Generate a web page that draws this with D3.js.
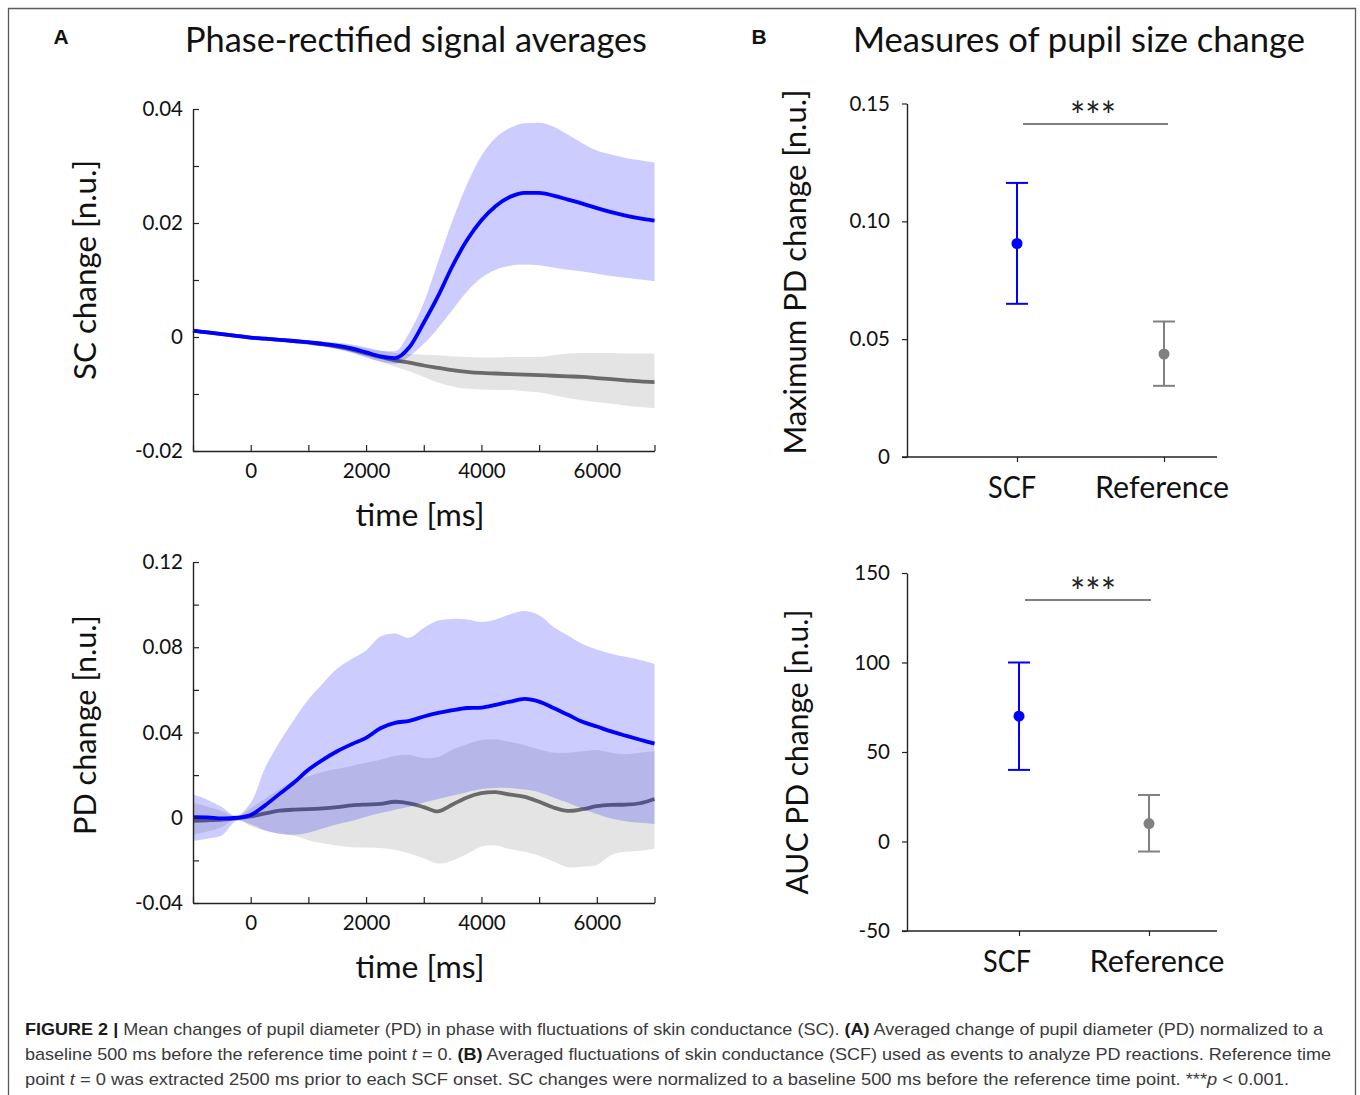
<!DOCTYPE html>
<html><head><meta charset="utf-8">
<script src="https://cdn.jsdelivr.net/npm/d3@7"></script>
<style>body{margin:0;background:#fff}svg{display:block}</style>
</head><body>
<svg id="c" width="1360" height="1095"></svg>
<script>
// ---------- DATA ----------
const timeMs = [-1000,-750,-500,-250,0,250,500,750,1000,1250,1500,1750,2000,2250,2500,2750,3000,3250,3500,3750,4000,4250,4500,4750,5000,5250,5500,5750,6000,6250,6500,6750,7000];

// SC change (top left)
const scMeanSCF  = [0.0011,0.0008,0.0005,0.0002,-0.0001,-0.0003,-0.0005,-0.0007,-0.0009,-0.0012,-0.0015,-0.0020,-0.0027,-0.0034,-0.0037,-0.0018,0.0025,0.0072,0.0125,0.0170,0.0205,0.0230,0.0246,0.0253,0.0253,0.0248,0.0241,0.0234,0.0226,0.0219,0.0213,0.0208,0.0204];
const scUpperSCF = [0.0013,0.0010,0.0007,0.0004,0.0001,-0.0001,-0.0003,-0.0004,-0.0006,-0.0008,-0.0010,-0.0013,-0.0018,-0.0024,-0.0025,0.0008,0.0060,0.0133,0.0205,0.0268,0.0318,0.0350,0.0367,0.0375,0.0376,0.0369,0.0355,0.0340,0.0327,0.0320,0.0314,0.0310,0.0306];
const scLowerSCF = [0.0009,0.0006,0.0003,0.0000,-0.0003,-0.0005,-0.0007,-0.0010,-0.0012,-0.0016,-0.0021,-0.0027,-0.0035,-0.0043,-0.0047,-0.0034,-0.0012,0.0016,0.0048,0.0080,0.0104,0.0118,0.0125,0.0127,0.0126,0.0122,0.0118,0.0115,0.0111,0.0107,0.0104,0.0101,0.0098];
const scMeanRef  = [0.0011,0.0008,0.0005,0.0002,-0.0001,-0.0003,-0.0005,-0.0007,-0.0010,-0.0013,-0.0017,-0.0022,-0.0029,-0.0035,-0.0041,-0.0045,-0.0050,-0.0054,-0.0058,-0.0061,-0.0063,-0.0064,-0.0065,-0.0066,-0.0067,-0.0068,-0.0069,-0.0070,-0.0072,-0.0074,-0.0076,-0.0078,-0.0079];
const scUpperRef = [0.0013,0.0010,0.0007,0.0004,0.0001,-0.0001,-0.0003,-0.0005,-0.0007,-0.0009,-0.0012,-0.0016,-0.0020,-0.0024,-0.0028,-0.0030,-0.0031,-0.0032,-0.0034,-0.0035,-0.0036,-0.0036,-0.0035,-0.0035,-0.0035,-0.0032,-0.0029,-0.0028,-0.0028,-0.0028,-0.0029,-0.0029,-0.0029];
const scLowerRef = [0.0009,0.0006,0.0003,0.0000,-0.0003,-0.0005,-0.0007,-0.0009,-0.0013,-0.0017,-0.0022,-0.0028,-0.0036,-0.0044,-0.0052,-0.0060,-0.0070,-0.0080,-0.0087,-0.0091,-0.0092,-0.0093,-0.0093,-0.0095,-0.0097,-0.0102,-0.0107,-0.0111,-0.0114,-0.0117,-0.0120,-0.0123,-0.0125];

// PD change (bottom left)
const pdMeanSCF  = [0.0003,0.0002,-0.0003,0.0000,0.0013,0.0058,0.0112,0.0165,0.0225,0.0272,0.0312,0.0345,0.0375,0.0420,0.0445,0.0455,0.0475,0.0492,0.0505,0.0515,0.0517,0.0530,0.0545,0.0558,0.0545,0.0515,0.0483,0.0450,0.0428,0.0405,0.0385,0.0366,0.0348];
const pdUpperSCF = [0.0110,0.0085,0.0050,0.0008,0.0070,0.0235,0.0355,0.0460,0.0555,0.0630,0.0700,0.0745,0.0785,0.0850,0.0865,0.0845,0.0890,0.0925,0.0933,0.0930,0.0918,0.0930,0.0955,0.0970,0.0950,0.0895,0.0855,0.0815,0.0790,0.0770,0.0755,0.0740,0.0722];
const pdLowerSCF = [-0.0108,-0.0098,-0.0082,-0.0015,-0.0030,-0.0060,-0.0075,-0.0080,-0.0070,-0.0050,-0.0030,-0.0015,0.0005,0.0022,0.0038,0.0052,0.0072,0.0088,0.0104,0.0120,0.0135,0.0140,0.0140,0.0132,0.0120,0.0095,0.0070,0.0042,0.0018,-0.0003,-0.0016,-0.0024,-0.0030];
const pdMeanRef  = [-0.0014,-0.0012,-0.0009,-0.0003,0.0006,0.0020,0.0033,0.0038,0.0040,0.0044,0.0050,0.0058,0.0062,0.0065,0.0075,0.0068,0.0050,0.0030,0.0062,0.0095,0.0115,0.0120,0.0108,0.0098,0.0075,0.0048,0.0032,0.0040,0.0054,0.0060,0.0062,0.0068,0.0088];
const pdUpperRef = [0.0070,0.0052,0.0032,0.0005,0.0045,0.0090,0.0135,0.0172,0.0195,0.0215,0.0230,0.0243,0.0258,0.0272,0.0290,0.0295,0.0280,0.0285,0.0320,0.0345,0.0365,0.0368,0.0355,0.0340,0.0320,0.0305,0.0305,0.0312,0.0318,0.0305,0.0298,0.0305,0.0313];
const pdLowerRef = [-0.0080,-0.0065,-0.0045,-0.0005,-0.0040,-0.0060,-0.0075,-0.0085,-0.0105,-0.0120,-0.0130,-0.0138,-0.0140,-0.0142,-0.0150,-0.0168,-0.0190,-0.0215,-0.0200,-0.0170,-0.0135,-0.0130,-0.0148,-0.0160,-0.0178,-0.0205,-0.0232,-0.0230,-0.0222,-0.0175,-0.0160,-0.0155,-0.0145];

// Panel B
const categories = ["SCF", "Reference"];
const maxPdMean  = [0.0906, 0.0437];
const maxPdLow   = [0.0650, 0.0302];
const maxPdHigh  = [0.1163, 0.0575];
const aucPdMean  = [70, 10];
const aucPdLow   = [40, -5.6];
const aucPdHigh  = [100, 26];

const scTicksMinor = [-0.02,-0.01,0,0.01,0.02,0.03,0.04];
const scTickLabels = [-0.02,0,0.02,0.04];
const pdTicksMinor = [-0.04,-0.02,0,0.02,0.04,0.06,0.08,0.10,0.12];
const pdTickLabels = [-0.04,0,0.04,0.08,0.12];
const timeTicksMinor = [-1000,0,1000,2000,3000,4000,5000,6000,7000];
const timeTickLabels = [0,2000,4000,6000];
const maxPdTicks = [0,0.05,0.10,0.15];
const aucTicks = [-50,0,50,100,150];

// ---------- STYLE ----------
const BLUE = "#0000ff", GRAYLINE = "#6a6a6a", GRAYPT = "#808080";
const FONT = "Lato, 'Open Sans', sans-serif";
const svg = d3.select("#c");
const fmt2 = v => v === 0 ? "0" : (v < 0 ? "-" : "") + Math.abs(v).toFixed(2);
const fmtInt = v => (v < 0 ? "-" : "") + Math.abs(v);

// frame
svg.append("path").attr("d","M8.5,1095 L8.5,8.5 L1355.5,8.5 L1355.5,1095")
  .attr("fill","none").attr("stroke","#5a5a5a").attr("stroke-width",1.3);

function txt(x, y, s, size, opts={}) {
  const t = svg.append("text").attr("x", x).attr("y", y).text(s)
    .attr("font-family", opts.family || FONT).attr("font-size", size)
    .attr("fill", opts.fill || "#111").attr("text-anchor", opts.anchor || "middle");
  if (opts.weight) t.attr("font-weight", opts.weight);
  if (opts.len) t.attr("textLength", opts.len).attr("lengthAdjust", "spacingAndGlyphs");
  if (opts.rot) t.attr("transform", `rotate(-90,${x},${y})`);
  return t;
}

// ---------- PANEL A (time series) ----------
function timePanel(cfg) {
  const x = d3.scaleLinear().domain([-1000, 7000]).range([193, 654.5]);
  const y = d3.scaleLinear().domain(cfg.yDomain).range(cfg.yRange);
  const g = svg.append("g");
  const area = (lo, hi) => d3.area().curve(cfg.curve)
    .x((d, i) => x(timeMs[i])).y0((d, i) => y(lo[i])).y1((d, i) => y(hi[i]))(timeMs);
  const line = arr => d3.line().curve(cfg.curve)
    .x((d, i) => x(timeMs[i])).y((d, i) => y(arr[i]))(timeMs);

  g.append("path").attr("d", area(cfg.refLo, cfg.refHi)).attr("fill", "#808080").attr("fill-opacity", 0.21);
  g.append("path").attr("d", line(cfg.refMean)).attr("fill", "none").attr("stroke", GRAYLINE).attr("stroke-width", 3.8);
  g.append("path").attr("d", area(cfg.scfLo, cfg.scfHi)).attr("fill", BLUE).attr("fill-opacity", 0.2);
  g.append("path").attr("d", line(cfg.scfMean)).attr("fill", "none").attr("stroke", BLUE).attr("stroke-width", 3.8);

  const y0 = cfg.yRange[0];
  const ya = g.append("g").attr("transform", "translate(193,0)")
    .call(d3.axisRight(y).tickValues(cfg.minor).tickSize(6).tickSizeOuter(0).tickFormat(""));
  ya.select(".domain").attr("stroke", "#222").attr("stroke-width", 1.4);
  ya.selectAll(".tick line").attr("stroke", "#222").attr("stroke-width", 1.2);
  const yl = g.append("g").attr("transform", "translate(193,0)")
    .call(d3.axisLeft(y).tickValues(cfg.labels).tickSize(0).tickPadding(10).tickFormat(fmt2));
  yl.select(".domain").remove();
  yl.selectAll("text").attr("font-family", FONT).attr("font-size", 20.5).attr("fill", "#111");

  const xa = g.append("g").attr("transform", `translate(0,${y0})`)
    .call(d3.axisTop(x).tickValues(timeTicksMinor).tickSize(6).tickSizeOuter(0).tickFormat(""));
  xa.select(".domain").attr("stroke", "#222").attr("stroke-width", 1.4);
  xa.selectAll(".tick line").attr("stroke", "#222").attr("stroke-width", 1.2);
  const xl = g.append("g").attr("transform", `translate(0,${y0})`)
    .call(d3.axisBottom(x).tickValues(timeTickLabels).tickSize(0).tickPadding(12).tickFormat(d => String(d)));
  xl.select(".domain").remove();
  xl.selectAll("text").attr("font-family", FONT).attr("font-size", 20.5).attr("fill", "#111");

  txt(420, y0 + 75, "time [ms]", 31, {len: 129});
  txt(96, cfg.labelY, cfg.ylabel, 31, {rot: true, len: 220});
}

timePanel({yDomain: [-0.02, 0.04], yRange: [451, 109], minor: scTicksMinor, labels: scTickLabels, curve: d3.curveMonotoneX,
  scfMean: scMeanSCF, scfLo: scLowerSCF, scfHi: scUpperSCF,
  refMean: scMeanRef, refLo: scLowerRef, refHi: scUpperRef, ylabel: "SC change [n.u.]", labelY: 270});
timePanel({yDomain: [-0.04, 0.12], yRange: [903, 562], minor: pdTicksMinor, labels: pdTickLabels, curve: d3.curveCatmullRom,
  scfMean: pdMeanSCF, scfLo: pdLowerSCF, scfHi: pdUpperSCF,
  refMean: pdMeanRef, refLo: pdLowerRef, refHi: pdUpperRef, ylabel: "PD change [n.u.]", labelY: 725});

// ---------- PANEL B (error bars) ----------
function errPanel(cfg) {
  const x = d3.scalePoint().domain(categories).range(cfg.xRange);
  const y = d3.scaleLinear().domain(cfg.yDomain).range(cfg.yRange);
  const g = svg.append("g");
  const yb = cfg.yRange[0];
  const ya = g.append("g").attr("transform", "translate(907,0)")
    .call(d3.axisLeft(y).tickValues(cfg.ticks).tickSize(5).tickSizeOuter(0).tickPadding(12).tickFormat(cfg.fmt));
  ya.select(".domain").attr("stroke", "#222").attr("stroke-width", 1.4);
  ya.selectAll(".tick line").attr("stroke", "#222").attr("stroke-width", 1.2);
  ya.selectAll("text").attr("font-family", FONT).attr("font-size", 20.5).attr("fill", "#111");
  g.append("line").attr("x1", 902).attr("x2", 1217).attr("y1", yb).attr("y2", yb)
    .attr("stroke", "#222").attr("stroke-width", 1.4);
  const xa = g.append("g").attr("transform", `translate(0,${yb})`)
    .call(d3.axisBottom(x).tickSize(5).tickSizeOuter(0).tickFormat(""));
  xa.select(".domain").remove();
  xa.selectAll(".tick line").attr("stroke", "#222").attr("stroke-width", 1.2);
  categories.forEach((c, i) => {
    txt(x(c) + cfg.labelDx[i], yb + 41, c, 30, {len: cfg.labelLen[i]});
  });
  const cols = [BLUE, GRAYPT];
  categories.forEach((c, i) => {
    const cx = x(c), col = cols[i];
    g.append("line").attr("x1", cx).attr("x2", cx).attr("y1", y(cfg.lo[i])).attr("y2", y(cfg.hi[i]))
      .attr("stroke", col).attr("stroke-width", 2);
    [cfg.lo[i], cfg.hi[i]].forEach(v => g.append("line").attr("x1", cx - 11).attr("x2", cx + 11)
      .attr("y1", y(v)).attr("y2", y(v)).attr("stroke", col).attr("stroke-width", 2));
    g.append("circle").attr("cx", cx).attr("cy", y(cfg.mean[i])).attr("r", 5.5).attr("fill", col);
  });
  g.append("line").attr("x1", x(categories[0]) + 6).attr("x2", cfg.sigEnd)
    .attr("y1", cfg.sigY).attr("y2", cfg.sigY).attr("stroke", "#555").attr("stroke-width", 1.3);
  txt(1093, cfg.sigY + 6, "***", 38, {fill: "#222", len: 46});
  txt(cfg.labX, cfg.labY, cfg.ylabel, 31, {rot: true, len: cfg.labLen});
}

errPanel({xRange: [1017, 1164], yDomain: [0, 0.15], yRange: [457, 103.5], ticks: maxPdTicks, fmt: fmt2,
  mean: maxPdMean, lo: maxPdLow, hi: maxPdHigh, sigY: 124, sigEnd: 1168,
  labelDx: [-5, -2], labelLen: [48, 134], ylabel: "Maximum PD change [n.u.]", labX: 806, labY: 272, labLen: 365});
errPanel({xRange: [1019, 1149], yDomain: [-50, 150], yRange: [931, 573], ticks: aucTicks, fmt: fmtInt,
  mean: aucPdMean, lo: aucPdLow, hi: aucPdHigh, sigY: 600, sigEnd: 1151,
  labelDx: [-12, 8], labelLen: [48, 135], ylabel: "AUC PD change [n.u.]", labX: 808, labY: 752, labLen: 285});

// ---------- TITLES ----------
txt(61, 44, "A", 21, {family: "'Liberation Sans', Arial, sans-serif", weight: "bold"});
txt(759, 44, "B", 21, {family: "'Liberation Sans', Arial, sans-serif", weight: "bold"});
txt(416, 52, "Phase-rectified signal averages", 34, {len: 462});
txt(1079, 52, "Measures of pupil size change", 34, {len: 452});

// ---------- CAPTION ----------
const CAP = "'Liberation Sans', Arial, sans-serif";
function capLine(y, parts, len) {
  const t = svg.append("text").attr("x", 25).attr("y", y).attr("font-family", CAP)
    .attr("font-size", 16.6).attr("fill", "#3a3a3a");
  parts.forEach(p => {
    const s = t.append("tspan").text(p[0]);
    if (p[1] === "b") s.attr("font-weight", "bold").attr("fill", "#1a1a1a");
    if (p[1] === "i") s.attr("font-style", "italic");
  });
  t.attr("textLength", len).attr("lengthAdjust", "spacingAndGlyphs");
}
capLine(1035, [["FIGURE 2 | ", "b"], ["Mean changes of pupil diameter (PD) in phase with fluctuations of skin conductance (SC). "], ["(A)", "b"], [" Averaged change of pupil diameter (PD) normalized to a"]], 1298);
capLine(1060, [["baseline 500 ms before the reference time point "], ["t", "i"], [" = 0. "], ["(B)", "b"], [" Averaged fluctuations of skin conductance (SCF) used as events to analyze PD reactions. Reference time"]], 1306);
capLine(1085, [["point "], ["t", "i"], [" = 0 was extracted 2500 ms prior to each SCF onset. SC changes were normalized to a baseline 500 ms before the reference time point. ***"], ["p", "i"], [" < 0.001."]], 1264);
</script>
</body></html>
